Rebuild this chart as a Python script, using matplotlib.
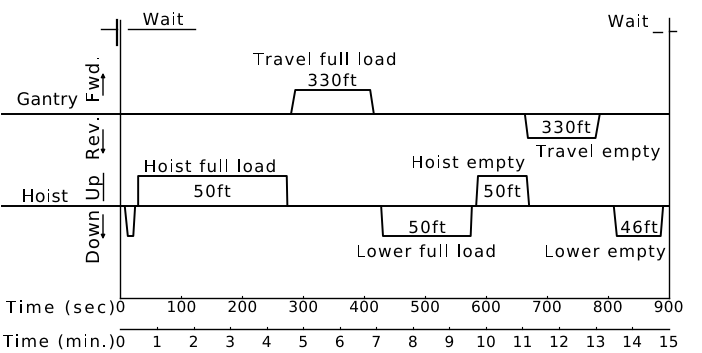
import matplotlib
matplotlib.use("Agg")
import matplotlib.pyplot as plt
from matplotlib.font_manager import FontProperties, findfont
from matplotlib.ft2font import FT2Font
from matplotlib.textpath import TextPath
from matplotlib.patches import PathPatch
from matplotlib.transforms import Affine2D

# Crane duty cycle: gantry travel and hoist motion versus time
gantry_t = [0, 280, 287, 410, 416, 664, 669, 780, 787, 900]
gantry_state = [0, 0, 1, 1, 0, 0, -1, -1, 0, 0]

hoist_t = [0, 7, 12, 21, 24, 29, 29, 273, 274, 428, 431, 575, 577,
           584, 587, 667, 671, 810, 815, 887, 891, 900]
hoist_state = [0, 0, -1, -1, 0, 0, 1, 1, 0, 0, -1, -1, 0,
               0, 1, 1, 0, 0, -1, -1, 0, 0]

sec_ticks = [0, 100, 200, 300, 400, 500, 600, 700, 800, 900]
min_ticks = list(range(0, 16))

# layout (vertical positions in pixel rows, horizontal scale)
W, H, DPI = 702, 353, 100
X0, PX_PER_S = 120.5, 0.609
Y_GANTRY, A_GANTRY = 114, 24
Y_HOIST, A_HOIST = 206, 30
Y_SEC, Y_MIN = 298, 329


def px(x):
    """horizontal pixel -> seconds"""
    return (x - X0) / PX_PER_S


fig = plt.figure(figsize=(W / DPI, H / DPI), dpi=DPI)
ax = fig.add_axes([0, 0, 1, 1])
ax.set_xlim(px(0), px(W))
ax.set_ylim(H, 0)
ax.axis("off")

FONT = "DejaVu Sans"
LW = 1.4
_fp = FontProperties(family=FONT)
_ft = FT2Font(findfont(_fp))


def _advance(c, size_px):
    _ft.set_size(size_px, 72)
    g = _ft.load_char(ord(c))
    return g.linearHoriAdvance / 65536.0


def spaced(t, y, s, size=12, sp=1.2, ha="center", rot=0):
    """Letter-spaced text drawn as glyph outlines.
    rot=0: (t, y) is the anchor on the baseline.
    rot=90: t is the baseline column, y the middle of the run."""
    size_px = size * DPI / 72.0
    adv = [_advance(c, size_px) for c in s]
    total = sum(adv) + sp * (len(s) - 1)
    dx, dy = ax.transData.transform((t, y))
    if rot == 0:
        start = {"left": dx, "center": dx - total / 2,
                 "right": dx - total}[ha]
    else:
        start = dy - total / 2
    pos = start
    for c, a in zip(s, adv):
        if c != " ":
            path = TextPath((0, 0), c, size=size_px, prop=_fp)
            if rot == 0:
                tr = Affine2D().translate(pos, dy)
            else:
                tr = Affine2D().rotate_deg(90).translate(dx, pos)
            ax.add_patch(PathPatch(path, transform=tr, facecolor="black",
                                   edgecolor="none", lw=0))
        pos += a + sp


# baselines
ax.plot([px(2), 900], [Y_GANTRY, Y_GANTRY], color="black", lw=LW)
ax.plot([px(2), 900], [Y_HOIST, Y_HOIST], color="black", lw=LW)

# waveforms
ax.plot(gantry_t, [Y_GANTRY - A_GANTRY * s for s in gantry_state],
        color="black", lw=LW)
ax.plot(hoist_t, [Y_HOIST - A_HOIST * s for s in hoist_state],
        color="black", lw=LW)

# frame: start / end verticals and time axes
ax.plot([0, 0], [20, Y_SEC], color="black", lw=1.0)
ax.plot([900, 900], [18, Y_SEC], color="black", lw=1.0)
ax.plot([0, 900], [Y_SEC, Y_SEC], color="black", lw=1.0)
ax.plot([0, 900], [Y_MIN, Y_MIN], color="black", lw=1.0)
for t in sec_ticks[1:-1]:
    ax.plot([t, t], [Y_SEC, Y_SEC - 2], color="black", lw=0.8)
for m in min_ticks[1:-1]:
    ax.plot([m * 60, m * 60], [Y_MIN, Y_MIN - 2], color="black", lw=0.8)

for t in sec_ticks:
    spaced(t, 312, str(t), size=11, sp=0.3)
for m in min_ticks:
    spaced(m * 60, 347, str(m), size=11, sp=0.3)
spaced(px(115), 313, "Time (sec)", size=12, sp=2.4, ha="right")
spaced(px(115), 347, "Time (min.)", size=12, sp=1.6, ha="right")

# wait markers
ax.plot([px(101), px(117)], [29, 29], color="black", lw=1.0)
ax.plot([px(117), px(117)], [20, 45], color="black", lw=1.6)
ax.plot([px(128), px(195)], [29, 29], color="black", lw=1.0)
spaced(px(163), 25, "Wait", sp=1.0)
spaced(px(628), 27, "Wait", sp=1.0)
ax.plot([px(653), px(662)], [32, 32], color="black", lw=1.0)
ax.plot([900, px(676)], [31, 31], color="black", lw=1.0)

# row labels
spaced(px(78), 105, "Gantry", size=12.5, sp=0.4, ha="right")
spaced(px(68), 202, "Hoist", size=12.5, sp=0.6, ha="right")
spaced(px(99), 79, "Fwd.", size=13, rot=90, sp=1.5)
spaced(px(99), 138, "Rev.", size=13, rot=90, sp=1.5)
spaced(px(99), 188, "Up", size=13, rot=90, sp=1.0)
spaced(px(99), 237, "Down", size=13, rot=90, sp=1.0)

# direction arrows
arrow = dict(arrowstyle="-|>", color="black", lw=1.0, mutation_scale=6)
ax.annotate("", xy=(px(103), 70), xytext=(px(103), 98), arrowprops=arrow)
ax.annotate("", xy=(px(103), 157), xytext=(px(103), 127), arrowprops=arrow)
ax.plot([px(103), px(103)], [173, 200], color="black", lw=1.0)
ax.annotate("", xy=(px(103), 242), xytext=(px(103), 212), arrowprops=arrow)

# motion labels (text, centre column, baseline row)
labels = [
    ("Travel full load", 325, 65),
    ("330ft", 332, 86),
    ("330ft", 566, 133),
    ("Travel empty", 598, 157),
    ("Hoist full load", 210, 172),
    ("50ft", 212, 197),
    ("Hoist empty", 468, 168),
    ("50ft", 502, 197),
    ("50ft", 427, 233),
    ("Lower full load", 426, 257),
    ("46ft", 639, 233),
    ("Lower empty", 605, 257),
]
for s, x, y in labels:
    spaced(px(x), y, s, size=12, sp=1.3)

fig.savefig("out.png", dpi=DPI)
